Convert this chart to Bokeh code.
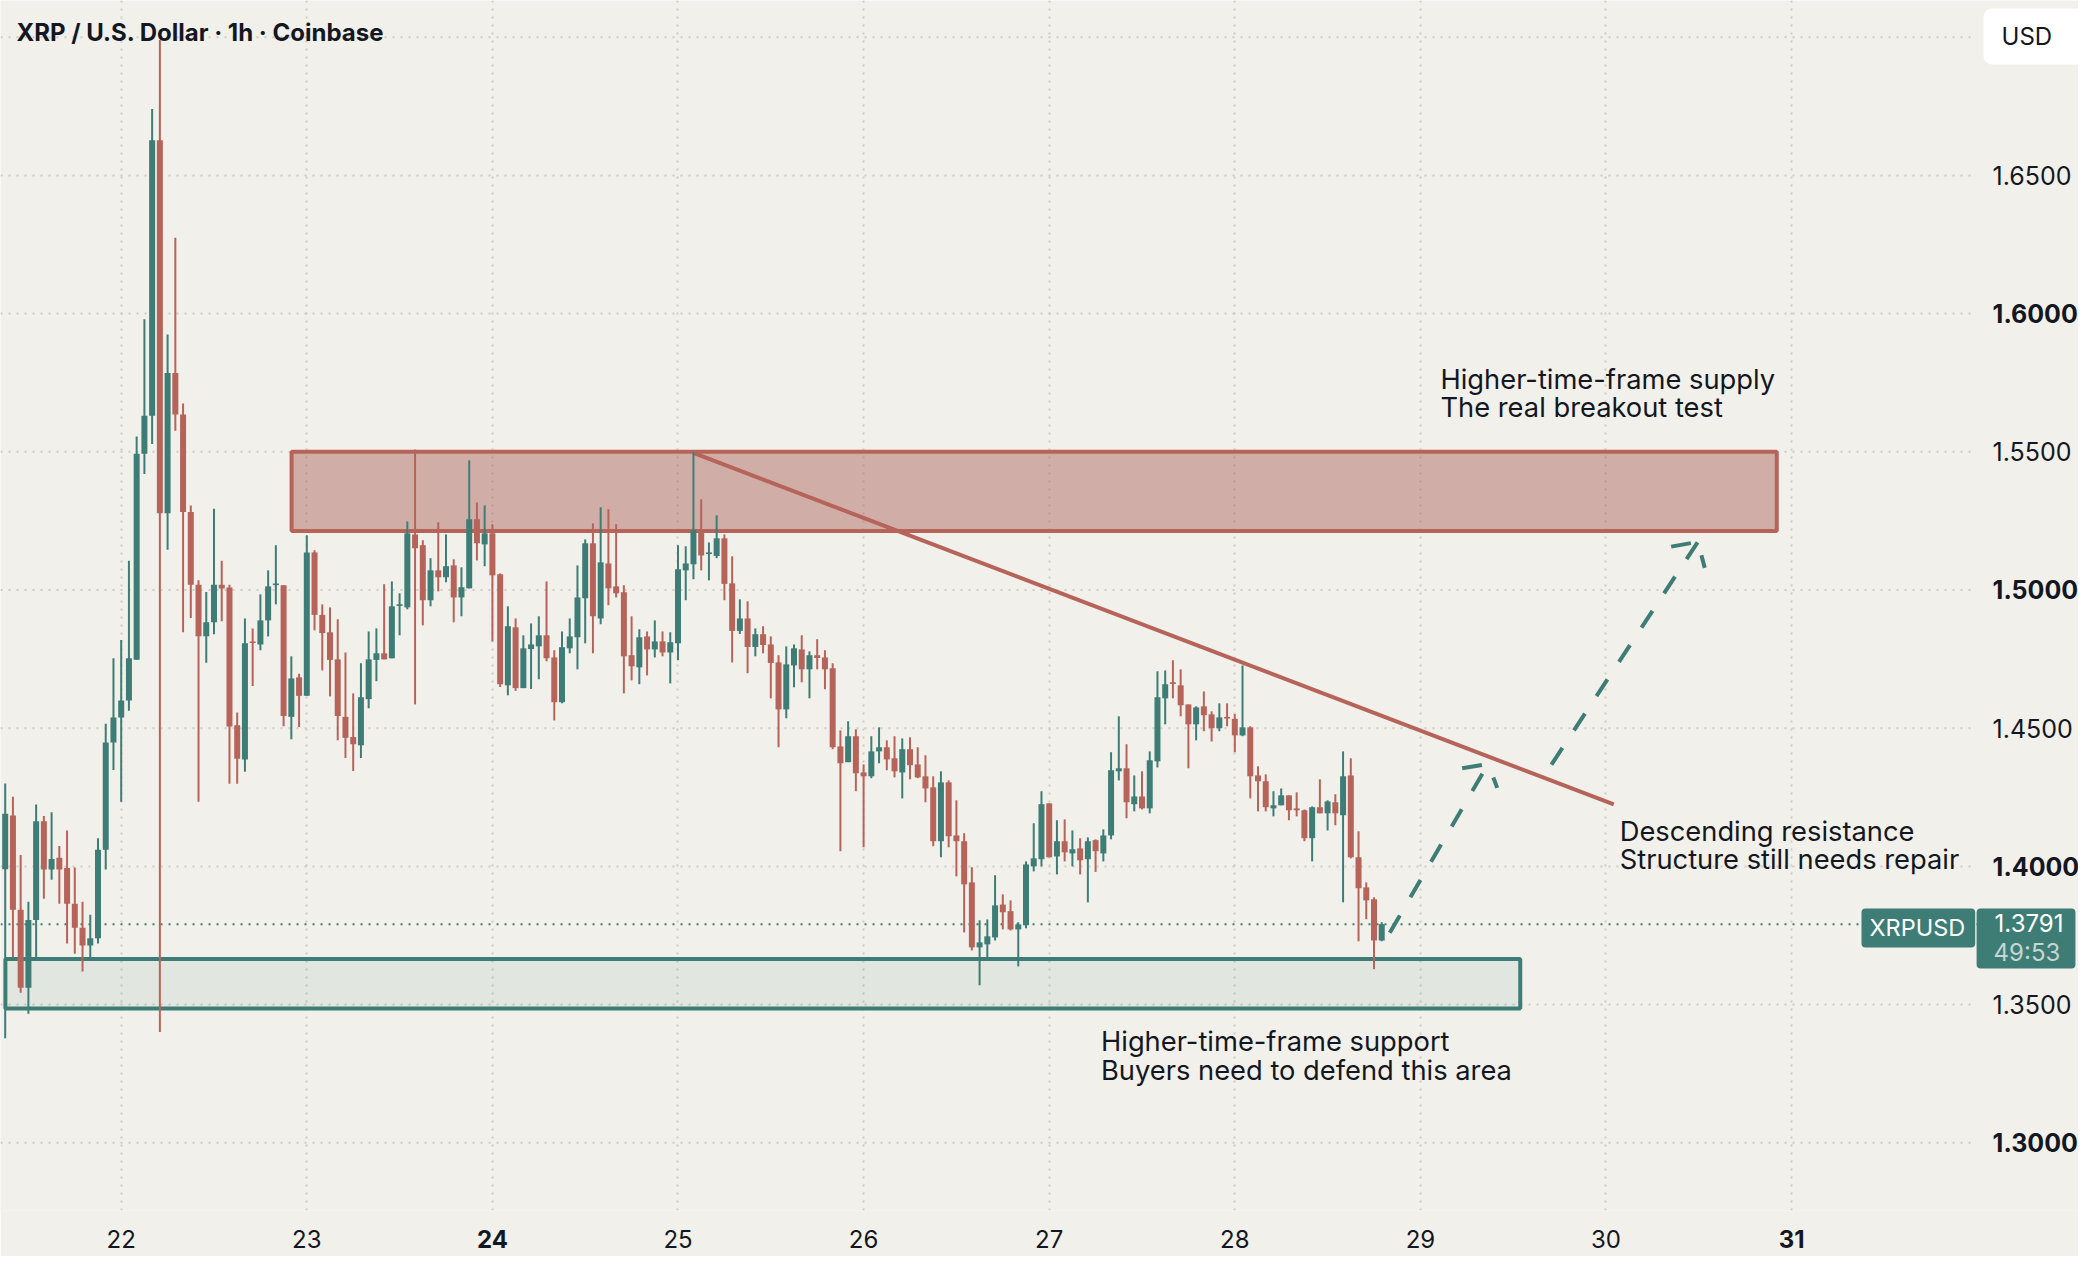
import numpy as np
from bokeh.plotting import figure
from bokeh.models import (ColumnDataSource, LinearAxis, FixedTicker, Grid, Range1d,
                          Label, Span, PrintfTickFormatter)
from bokeh.core.properties import value
from bokeh.embed import file_html
from bokeh.resources import INLINE

# ---------------- data ----------------
START_DAY = 21.375          # first candle: 21st, 09:00 (hourly candles)
OPEN = [1.3990, 1.4184, 1.3843, 1.3561, 1.3806, 1.4163, 1.3989, 1.4031, 1.3994, 1.3865,
        1.3778, 1.3714, 1.3740, 1.4060, 1.4448, 1.4539, 1.4600, 1.4748, 1.5493, 1.5630,
        1.6627, 1.5278, 1.5785, 1.5635, 1.5282, 1.5019, 1.4833, 1.4883, 1.5019, 1.5009,
        1.4511, 1.4387, 1.4814, 1.4803, 1.4890, 1.5018, 1.5017, 1.4541, 1.4684, 1.4617,
        1.5136, 1.4910, 1.4847, 1.4749, 1.4541, 1.4468, 1.4438, 1.4605, 1.4747, 1.4771,
        1.4753, 1.4943, 1.4937, 1.5201, 1.5162, 1.4963, 1.5071, 1.5046, 1.5089, 1.4973,
        1.5006, 1.5256, 1.5165, 1.5205, 1.5057, 1.4655, 1.4865, 1.4645, 1.4786, 1.4796,
        1.4836, 1.4756, 1.4594, 1.4789, 1.4829, 1.4970, 1.5169, 1.4897, 1.5096, 1.5013,
        1.4992, 1.4764, 1.4720, 1.4832, 1.4785, 1.4814, 1.4774, 1.4807, 1.5071, 1.5093,
        1.5216, 1.5130, 1.5123, 1.5187, 1.5024, 1.4852, 1.4897, 1.4794, 1.4840, 1.4803,
        1.4738, 1.4568, 1.4727, 1.4785, 1.4713, 1.4764, 1.4756, 1.4717, 1.4434, 1.4377,
        1.4471, 1.4340, 1.4326, 1.4416, 1.4431, 1.4391, 1.4340, 1.4424, 1.4369, 1.4326,
        1.4286, 1.4091, 1.4304, 1.4112, 1.4091, 1.3942, 1.3707, 1.3718, 1.3743, 1.3862,
        1.3838, 1.3772, 1.3787, 1.4000, 1.4026, 1.4228, 1.4036, 1.4091, 1.4047, 1.4065,
        1.4026, 1.4095, 1.4047, 1.4112, 1.4344, 1.4355, 1.4225, 1.4253, 1.4210, 1.4380,
        1.4608, 1.4666, 1.4655, 1.4586, 1.4514, 1.4579, 1.4550, 1.4500, 1.4541, 1.4534,
        1.4474, 1.4503, 1.4329, 1.4308, 1.4210, 1.4221, 1.4257, 1.4210, 1.4203, 1.4102,
        1.4214, 1.4192, 1.4232, 1.4185, 1.4329, 1.4033, 1.3924, 1.3881, 1.3732]
HIGH = [1.4300, 1.4252, 1.4041, 1.3872, 1.4224, 1.4182, 1.4196, 1.4074, 1.4130, 1.3996,
        1.3872, 1.3825, 1.4102, 1.4516, 1.4753, 1.4819, 1.5106, 1.5555, 1.5980, 1.6740,
        1.6990, 1.5924, 1.6274, 1.5675, 1.5306, 1.5035, 1.4993, 1.5294, 1.5106, 1.5019,
        1.4557, 1.4897, 1.4861, 1.4984, 1.5071, 1.5162, 1.5017, 1.4760, 1.4697, 1.5198,
        1.5144, 1.4948, 1.4937, 1.4894, 1.4774, 1.4626, 1.4735, 1.4850, 1.4861, 1.5021,
        1.5031, 1.4988, 1.5248, 1.5508, 1.5180, 1.5115, 1.5245, 1.5201, 1.5111, 1.5082,
        1.5469, 1.5317, 1.5306, 1.5238, 1.5060, 1.4941, 1.4897, 1.4836, 1.4879, 1.4905,
        1.5031, 1.4782, 1.4850, 1.4897, 1.5089, 1.5183, 1.5241, 1.5299, 1.5292, 1.5238,
        1.5017, 1.4905, 1.4858, 1.4850, 1.4890, 1.4850, 1.4847, 1.5162, 1.5158, 1.5499,
        1.5328, 1.5172, 1.5270, 1.5201, 1.5122, 1.4966, 1.4959, 1.4861, 1.4869, 1.4832,
        1.4764, 1.4796, 1.4803, 1.4836, 1.4778, 1.4822, 1.4782, 1.4735, 1.4492, 1.4525,
        1.4496, 1.4369, 1.4471, 1.4503, 1.4456, 1.4471, 1.4463, 1.4467, 1.4431, 1.4402,
        1.4326, 1.4344, 1.4311, 1.4239, 1.4120, 1.3997, 1.3805, 1.3808, 1.3968, 1.3899,
        1.3877, 1.3798, 1.4018, 1.4156, 1.4272, 1.4228, 1.4167, 1.4170, 1.4130, 1.4102,
        1.4105, 1.4098, 1.4134, 1.4413, 1.4543, 1.4442, 1.4329, 1.4344, 1.4416, 1.4706,
        1.4709, 1.4746, 1.4713, 1.4586, 1.4579, 1.4633, 1.4561, 1.4590, 1.4590, 1.4551,
        1.4727, 1.4507, 1.4362, 1.4333, 1.4272, 1.4282, 1.4257, 1.4268, 1.4206, 1.4217,
        1.4315, 1.4239, 1.4261, 1.4416, 1.4391, 1.4127, 1.3942, 1.3888, 1.3798]
LOW = [1.3378, 1.3672, 1.3543, 1.3467, 1.3672, 1.3883, 1.3952, 1.3865, 1.3721, 1.3684,
       1.3620, 1.3672, 1.3721, 1.3989, 1.4349, 1.4234, 1.4563, 1.4748, 1.5420, 1.5528,
       1.3401, 1.5146, 1.5576, 1.4847, 1.4899, 1.4234, 1.4737, 1.4840, 1.4887, 1.4299,
       1.4299, 1.4342, 1.4653, 1.4782, 1.4832, 1.4948, 1.4507, 1.4460, 1.4504, 1.4617,
       1.4854, 1.4709, 1.4615, 1.4456, 1.4392, 1.4345, 1.4392, 1.4572, 1.4670, 1.4749,
       1.4753, 1.4836, 1.4930, 1.4586, 1.4872, 1.4941, 1.4995, 1.5028, 1.4883, 1.4905,
       1.5006, 1.5107, 1.5086, 1.4814, 1.4649, 1.4619, 1.4635, 1.4645, 1.4642, 1.4677,
       1.4742, 1.4528, 1.4590, 1.4771, 1.4713, 1.4807, 1.4771, 1.4876, 1.4945, 1.4973,
       1.4626, 1.4673, 1.4659, 1.4691, 1.4756, 1.4760, 1.4662, 1.4746, 1.4963, 1.5039,
       1.5071, 1.5035, 1.5115, 1.4963, 1.4738, 1.4841, 1.4699, 1.4760, 1.4771, 1.4608,
       1.4431, 1.4536, 1.4648, 1.4666, 1.4608, 1.4713, 1.4641, 1.4424, 1.4055, 1.4377,
       1.4272, 1.4069, 1.4319, 1.4373, 1.4348, 1.4322, 1.4246, 1.4315, 1.4319, 1.4232,
       1.4073, 1.4033, 1.4069, 1.3964, 1.3761, 1.3696, 1.3570, 1.3667, 1.3732, 1.3772,
       1.3768, 1.3638, 1.3776, 1.3982, 1.4000, 1.4033, 1.3971, 1.4018, 1.4000, 1.3971,
       1.3870, 1.3980, 1.4018, 1.4098, 1.4311, 1.4174, 1.4199, 1.4206, 1.4192, 1.4358,
       1.4514, 1.4608, 1.4543, 1.4355, 1.4456, 1.4489, 1.4452, 1.4489, 1.4507, 1.4413,
       1.4471, 1.4246, 1.4199, 1.4199, 1.4181, 1.4221, 1.4167, 1.4181, 1.4091, 1.4018,
       1.4192, 1.4130, 1.4149, 1.3870, 1.4029, 1.3729, 1.3809, 1.3628, 1.3729]
CLOSE = [1.4190, 1.3843, 1.3561, 1.3806, 1.4163, 1.3989, 1.4027, 1.3989, 1.3865, 1.3778,
         1.3714, 1.3740, 1.4060, 1.4448, 1.4539, 1.4600, 1.4753, 1.5493, 1.5630, 1.6627,
         1.5278, 1.5785, 1.5635, 1.5282, 1.5019, 1.4833, 1.4883, 1.5019, 1.5005, 1.4506,
         1.4389, 1.4807, 1.4808, 1.4890, 1.5013, 1.5023, 1.4544, 1.4680, 1.4617, 1.5136,
         1.4910, 1.4844, 1.4747, 1.4544, 1.4465, 1.4442, 1.4612, 1.4749, 1.4771, 1.4749,
         1.4941, 1.4948, 1.5205, 1.5151, 1.4963, 1.5071, 1.5046, 1.5086, 1.4973, 1.5010,
         1.5256, 1.5169, 1.5205, 1.5053, 1.4659, 1.4869, 1.4645, 1.4789, 1.4803, 1.4836,
         1.4753, 1.4594, 1.4793, 1.4832, 1.4973, 1.5169, 1.4905, 1.5100, 1.5006, 1.4988,
         1.4760, 1.4724, 1.4829, 1.4785, 1.4814, 1.4774, 1.4811, 1.5075, 1.5096, 1.5216,
         1.5125, 1.5136, 1.5187, 1.5022, 1.4852, 1.4897, 1.4794, 1.4840, 1.4801, 1.4736,
         1.4568, 1.4731, 1.4789, 1.4713, 1.4764, 1.4754, 1.4713, 1.4431, 1.4373, 1.4471,
         1.4337, 1.4326, 1.4416, 1.4431, 1.4387, 1.4344, 1.4424, 1.4366, 1.4322, 1.4282,
         1.4091, 1.4304, 1.4109, 1.4091, 1.3935, 1.3707, 1.3725, 1.3747, 1.3859, 1.3834,
         1.3772, 1.3790, 1.4007, 1.4029, 1.4225, 1.4033, 1.4091, 1.4051, 1.4062, 1.4022,
         1.4091, 1.4055, 1.4112, 1.4348, 1.4355, 1.4232, 1.4253, 1.4210, 1.4384, 1.4612,
         1.4659, 1.4660, 1.4583, 1.4514, 1.4575, 1.4547, 1.4500, 1.4539, 1.4535, 1.4474,
         1.4503, 1.4326, 1.4308, 1.4214, 1.4221, 1.4257, 1.4203, 1.4203, 1.4102, 1.4214,
         1.4192, 1.4235, 1.4192, 1.4326, 1.4033, 1.3921, 1.3877, 1.3732, 1.3791]

LAST_PRICE_TEXT = "1.3791"
COUNTDOWN_TEXT = "49:53"
SYMBOL = "XRPUSD"
CURRENCY = "USD"
TITLE = "XRP / U.S. Dollar \u00b7 1h \u00b7 Coinbase"

Y_TICKS = [1.30, 1.35, 1.40, 1.45, 1.50, 1.55, 1.60, 1.65]
Y_LABELS = ["1.3000", "1.3500", "1.4000", "1.4500", "1.5000", "1.5500", "1.6000", "1.6500"]
Y_LABEL_BOLD = [True, False, True, False, True, False, True, False]
Y_GRID = [1.30, 1.35, 1.40, 1.45, 1.50, 1.55, 1.60, 1.65, 1.70]
X_TICKS_REG = [22, 23, 25, 26, 27, 28, 29, 30]
X_LABELS_REG = ["22", "23", "25", "26", "27", "28", "29", "30"]
X_TICKS_BOLD = [24, 31]
X_LABELS_BOLD = ["24", "31"]
X_GRID = [22, 23, 24, 25, 26, 27, 28, 29, 30, 31]

# zones (day, price)
SUPPLY = dict(left=22.918, right=30.92, bottom=1.5213, top=1.5500)
SUPPORT = dict(left=21.376, right=29.538, bottom=1.3486, top=1.3665)
# descending resistance trend line
RES_X = [25.083, 30.042]
RES_Y = [1.5496, 1.4224]
# projected path (two dashed arrows)
PATH_XS = [[28.835, 29.365], [29.225, 29.365, 29.414],
           [29.706, 30.495], [30.351, 30.495, 30.532]]
PATH_YS = [[1.3760, 1.4371], [1.4355, 1.4371, 1.4284],
           [1.4368, 1.5174], [1.5157, 1.5174, 1.5080]]
# annotation texts (left edge, vertical centre)
NOTE_TEXT = ["Higher-time-frame supply", "The real breakout test",
             "Descending resistance", "Structure still needs repair",
             "Higher-time-frame support", "Buyers need to defend this area"]
NOTE_X = [29.108, 29.108, 30.074, 30.074, 27.279, 27.279]
NOTE_Y = [1.5760, 1.5660, 1.4126, 1.4026, 1.3365, 1.3263]

# ---------------- layout / style ----------------
X_START, X_END = 21.34968, 32.54580     # full canvas width
CHART_END = 31.96390                     # right edge of the candle pane
PRICE_COL_X = 32.0830                    # left edge of price-scale labels
Y_BOTTOM, Y_TOP = 1.27550, 1.71328
SYM_BOX_X = 31.3766                      # left edge of symbol tag
PRICE_BOX_X = 31.9968                    # left edge of last-price tag
TAG_TOP_Y = 1.38477                      # top edge of both tags
USD_BOX_X, USD_BOX_Y = 32.0343, 1.71040
COUNTDOWN_Y = 1.36867

BG = "#f2f0eb"
TXT = "#131722"
UP = "#3d7d75"
DOWN = "#b6645a"
GRIDC = "#cfcac3"
FONT = "Inter"

o = np.array(OPEN); h = np.array(HIGH); l = np.array(LOW); c = np.array(CLOSE)
n = len(o)
t = START_DAY + np.arange(n) / 24.0
top = np.maximum(o, c); bot = np.minimum(o, c)
mid = (top + bot) / 2
thin = (top - bot) < 0.0006
top = np.where(thin, mid + 0.0003, top)
bot = np.where(thin, mid - 0.0003, bot)
col = np.where(c >= o, UP, DOWN)
src = ColumnDataSource(dict(t=t, h=h, l=l, top=top, bot=bot, col=col))

p = figure(width=2078, height=1256,
           x_range=Range1d(X_START, X_END), y_range=Range1d(Y_BOTTOM, Y_TOP),
           x_axis_location=None, y_axis_location=None,
           toolbar_location=None, output_backend="svg",
           min_border_left=0, min_border_top=0, min_border_right=0, min_border_bottom=46,
           background_fill_color=BG, border_fill_color=BG, outline_line_color=None)
p.grid.visible = False

# vertical grid (day lines)
p.add_layout(Grid(dimension=0, ticker=FixedTicker(ticks=X_GRID), grid_line_color=GRIDC,
                  grid_line_width=2, grid_line_dash="2 6"))
# horizontal grid, only across the candle pane
p.segment(x0=[X_START] * len(Y_GRID), x1=[CHART_END] * len(Y_GRID), y0=Y_GRID, y1=Y_GRID,
          line_color=GRIDC, line_width=2, line_dash="2 6")


def style_axis(ax, bold, standoff, size):
    ax.axis_line_color = None
    ax.major_tick_line_color = None
    ax.minor_tick_line_color = None
    ax.major_tick_out = 0
    ax.major_tick_in = 0
    ax.minor_tick_out = 0
    ax.minor_tick_in = 0
    ax.major_label_standoff = standoff
    ax.major_label_text_font = FONT
    ax.major_label_text_font_size = size
    ax.major_label_text_color = TXT
    ax.major_label_text_font_style = "bold" if bold else "normal"


ax1 = LinearAxis(ticker=FixedTicker(ticks=X_TICKS_REG), formatter=PrintfTickFormatter(format="%d"),
                 major_label_overrides=dict(zip(X_TICKS_REG, X_LABELS_REG)))
style_axis(ax1, False, 19, "24px")
ax2 = LinearAxis(ticker=FixedTicker(ticks=X_TICKS_BOLD), formatter=PrintfTickFormatter(format="%d"),
                 major_label_overrides=dict(zip(X_TICKS_BOLD, X_LABELS_BOLD)))
style_axis(ax2, True, -21, "24px")
p.add_layout(ax1, "below")
p.add_layout(ax2, "below")

# price-scale labels
ysrc = ColumnDataSource(dict(x=[PRICE_COL_X] * len(Y_TICKS), y=Y_TICKS, text=Y_LABELS,
                             style=["bold" if b else "normal" for b in Y_LABEL_BOLD]))
p.text(x="x", y="y", text="text", text_font_style="style", source=ysrc,
       text_font=value(FONT), text_font_size="25px", text_color=TXT,
       text_align="left", text_baseline="middle")

# last price dotted line
p.add_layout(Span(location=CLOSE[-1], dimension="width", line_color=UP, line_width=2,
                  line_dash="2 6", level="underlay"))

# zones
p.quad(left=[SUPPLY["left"]], right=[SUPPLY["right"]], bottom=[SUPPLY["bottom"]], top=[SUPPLY["top"]],
       fill_color="#a9625a", fill_alpha=0.47, line_color=DOWN, line_width=4)
p.quad(left=[SUPPORT["left"]], right=[SUPPORT["right"]], bottom=[SUPPORT["bottom"]], top=[SUPPORT["top"]],
       fill_color="#3d8a7f", fill_alpha=0.09, line_color=UP, line_width=4)

# trend line
p.line(RES_X, RES_Y, line_color=DOWN, line_width=4)

# candles
p.segment(x0="t", x1="t", y0="l", y1="h", line_color="col", line_width=2, source=src)
p.vbar(x="t", width=0.0323, top="top", bottom="bot", fill_color="col", line_color=None, source=src)

# projection path
p.multi_line(xs=PATH_XS, ys=PATH_YS, line_color=UP, line_width=4, line_dash="20 21")

# notes
p.text(x=NOTE_X, y=NOTE_Y, text=NOTE_TEXT, text_font=value(FONT), text_font_size="27.3px",
       text_color=TXT, text_align="left", text_baseline="middle")

# title
p.text(x=[21.436], y=[1.70158], text=[TITLE], text_font=value(FONT), text_font_size="24px",
       text_font_style="bold", text_color=TXT, text_align="left", text_baseline="middle")


def pad(lbl, left, right, top_, bottom):
    try:
        lbl.padding = dict(left=left, right=right, top=top_, bottom=bottom)
    except Exception:
        try:
            lbl.padding = (top_, right, bottom, left)
        except Exception:
            lbl.padding = max(left, right, top_, bottom)


def mk_label(x, y, text, color, bg, radius, size="24px", baseline="top"):
    lbl = Label(x=x, y=y, text=text, text_font=FONT, text_font_size=size, text_color=color,
                text_align="left", text_baseline=baseline)
    if bg is not None:
        lbl.background_fill_color = bg
        try:
            lbl.border_radius = radius
        except Exception:
            pass
    return lbl


sym = mk_label(SYM_BOX_X, TAG_TOP_Y, SYMBOL, "white", UP, 4, size="23.5px")
pad(sym, 8, 10, 5, 5)
pbox = mk_label(PRICE_BOX_X, TAG_TOP_Y, LAST_PRICE_TEXT, "white", UP, 4)
pad(pbox, 18, 12, 6, 36)
cd = mk_label(PRICE_COL_X + 0.0054, COUNTDOWN_Y, COUNTDOWN_TEXT, "#c5d6d2", None, 0,
              baseline="middle")
usd = mk_label(USD_BOX_X, USD_BOX_Y, CURRENCY, TXT, "white", 8)
pad(usd, 18, 35, 14, 13)
for lb in (sym, pbox, cd, usd):
    p.add_layout(lb)

open("out.html", "w").write(file_html(p, INLINE))
